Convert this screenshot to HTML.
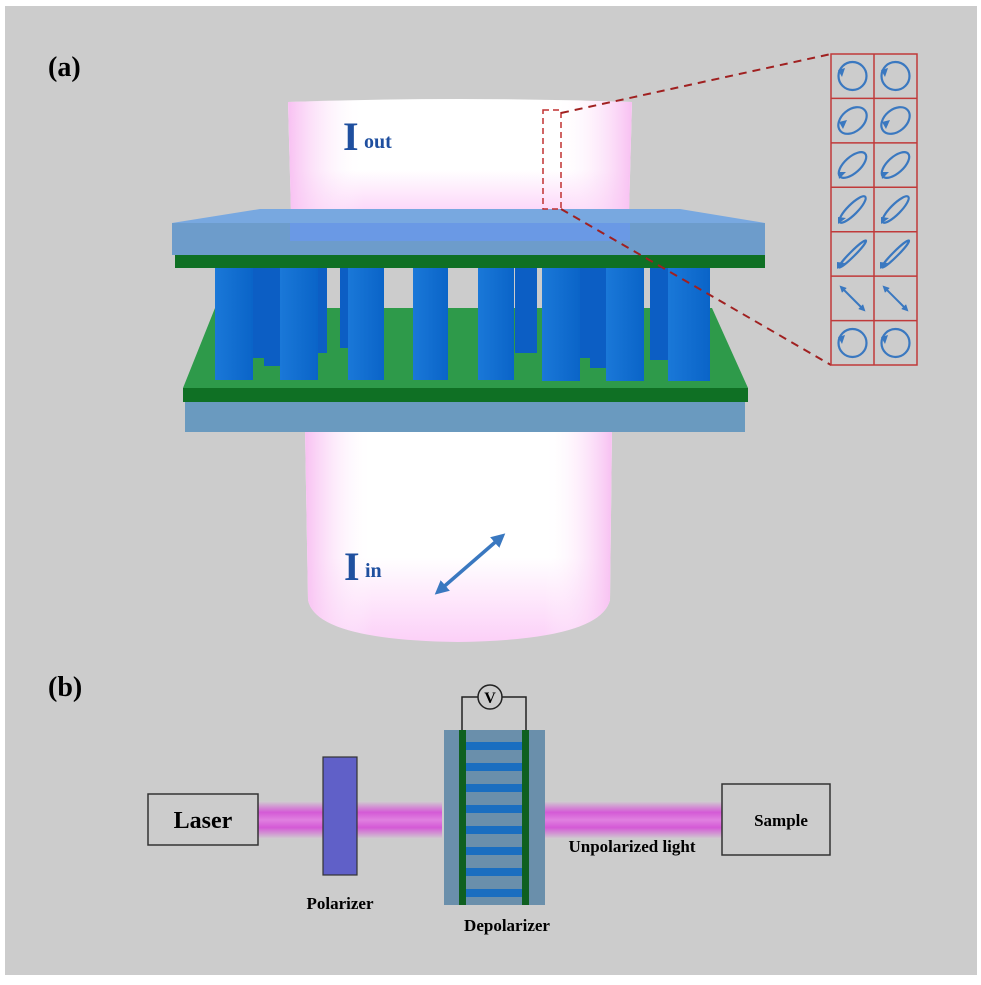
<!DOCTYPE html>
<html><head><meta charset="utf-8"><style>html,body{margin:0;padding:0;background:#fff}svg{display:block}</style></head>
<body>
<svg width="981" height="985" viewBox="0 0 981 985" xmlns="http://www.w3.org/2000/svg" font-family="Liberation Serif, serif">
<defs>
<linearGradient id="cyl2" x1="0" y1="0" x2="0" y2="1">
<stop offset="0" stop-color="#fff"/><stop offset="0.6" stop-color="#fff"/><stop offset="1" stop-color="#fcd0f8"/></linearGradient>
<linearGradient id="side" x1="0" y1="0" x2="1" y2="0">
<stop offset="0" stop-color="#f8c0f2" stop-opacity="1"/><stop offset="0.22" stop-color="#fff" stop-opacity="0"/><stop offset="0.78" stop-color="#fff" stop-opacity="0"/><stop offset="1" stop-color="#f8c0f2" stop-opacity="1"/></linearGradient>
<linearGradient id="beam" x1="0" y1="0" x2="0" y2="1">
<stop offset="0" stop-color="#cfcfcf"/><stop offset="0.3" stop-color="#d45ad6"/><stop offset="0.5" stop-color="#e080e0"/><stop offset="0.7" stop-color="#d45ad6"/><stop offset="1" stop-color="#cfcfcf"/></linearGradient>
<linearGradient id="pil" x1="0" y1="0" x2="1" y2="0">
<stop offset="0" stop-color="#1a78d8"/><stop offset="1" stop-color="#0a64c8"/></linearGradient>
<marker id="ah" viewBox="0 0 10 10" refX="5" refY="5" markerWidth="4" markerHeight="4" orient="auto-start-reverse"><path d="M0,0 L10,5 L0,10 z" fill="#3a78c0"/></marker>
<marker id="ah2" viewBox="0 0 10 10" refX="5" refY="5" markerWidth="3.5" markerHeight="3.5" orient="auto-start-reverse"><path d="M0,0 L10,5 L0,10 z" fill="#3a78c0"/></marker>
</defs>
<rect x="0" y="0" width="981" height="985" fill="#fff"/>
<rect x="5" y="6" width="972" height="969" fill="#cccccc"/>

<text x="48" y="76" font-size="28" font-weight="bold">(a)</text>
<text x="48" y="696" font-size="28" font-weight="bold">(b)</text>

<path d="M305,430 L612,430 L610,600 Q600,640 458,642 Q316,640 308,600 Z" fill="url(#cyl2)"/>
<path d="M305,430 L612,430 L610,600 Q600,640 458,642 Q316,640 308,600 Z" fill="url(#side)"/>

<path d="M288,102 Q460,96 632,102 L629,213 Q460,222 291,213 Z" fill="url(#cyl2)"/>
<path d="M288,102 Q460,96 632,102 L629,213 Q460,222 291,213 Z" fill="url(#side)"/>

<polygon points="215,308 712,308 748,388 183,388" fill="#2e9a4a"/>
<rect x="183" y="388" width="565" height="14" fill="#0f7024"/>
<rect x="185" y="402" width="560" height="30" fill="#6a9abf"/>

<g fill="#0c5ec4">
<rect x="250" y="268" width="22" height="90"/><rect x="305" y="268" width="22" height="85"/><rect x="340" y="268" width="20" height="80"/>
<rect x="515" y="268" width="22" height="85"/><rect x="580" y="268" width="22" height="90"/><rect x="650" y="268" width="22" height="92"/>
<rect x="264" y="268" width="16" height="98"/><rect x="590" y="268" width="18" height="100"/>
</g>
<g fill="url(#pil)">
<rect x="215" y="268" width="38" height="112"/><rect x="280" y="268" width="38" height="112"/><rect x="348" y="268" width="36" height="112"/>
<rect x="413" y="268" width="35" height="112"/><rect x="478" y="268" width="36" height="112"/><rect x="542" y="268" width="38" height="113"/>
<rect x="606" y="268" width="38" height="113"/><rect x="668" y="268" width="42" height="113"/>
</g>

<polygon points="260,209 680,209 765,223 172,223" fill="#78a8e0"/>
<rect x="172" y="223" width="593" height="32" fill="#6d9ccb"/>
<rect x="290" y="223" width="340" height="18" fill="#6a98f0" opacity="0.7"/>
<rect x="175" y="255" width="590" height="13" fill="#0f7024"/>

<text x="343" y="150" font-size="40" font-weight="bold" fill="#1f4f9f">I</text>
<text x="364" y="148" font-size="20" font-weight="bold" fill="#1f4f9f">out</text>
<text x="344" y="580" font-size="40" font-weight="bold" fill="#1f4f9f">I</text>
<text x="365" y="577" font-size="20" font-weight="bold" fill="#1f4f9f">in</text>
<line x1="440" y1="590" x2="500" y2="538" stroke="#3a78c0" stroke-width="3.5" marker-start="url(#ah)" marker-end="url(#ah)"/>

<rect x="543" y="110" width="18" height="99" fill="none" stroke="#c03030" stroke-width="1.5" stroke-dasharray="6,4"/>
<line x1="561" y1="113" x2="831" y2="54" stroke="#a02020" stroke-width="2" stroke-dasharray="8,6"/>
<line x1="561" y1="209" x2="831" y2="365" stroke="#a02020" stroke-width="2" stroke-dasharray="8,6"/>

<g stroke="#c03a3a" stroke-width="1.5" fill="none">
<rect x="831" y="54" width="86" height="311"/>
<line x1="874" y1="54" x2="874" y2="365"/>
<line x1="831" y1="98.4" x2="917" y2="98.4"/><line x1="831" y1="142.9" x2="917" y2="142.9"/>
<line x1="831" y1="187.3" x2="917" y2="187.3"/><line x1="831" y1="231.7" x2="917" y2="231.7"/>
<line x1="831" y1="276.1" x2="917" y2="276.1"/><line x1="831" y1="320.6" x2="917" y2="320.6"/>
</g>
<g stroke="#3a78c0" stroke-width="2.2" fill="none">
<circle cx="852.5" cy="76" r="14"/><circle cx="895.5" cy="76" r="14"/>
<ellipse cx="852.5" cy="120.5" rx="16" ry="11" transform="rotate(-40 852.5 120.5)"/><ellipse cx="895.5" cy="120.5" rx="16" ry="11" transform="rotate(-40 895.5 120.5)"/>
<ellipse cx="852.5" cy="165" rx="17" ry="8" transform="rotate(-42 852.5 165)"/><ellipse cx="895.5" cy="165" rx="17" ry="8" transform="rotate(-42 895.5 165)"/>
<ellipse cx="852.5" cy="209.5" rx="18" ry="5" transform="rotate(-45 852.5 209.5)"/><ellipse cx="895.5" cy="209.5" rx="18" ry="5" transform="rotate(-45 895.5 209.5)"/>
<ellipse cx="852.5" cy="254" rx="19" ry="2.5" transform="rotate(-45 852.5 254)"/><ellipse cx="895.5" cy="254" rx="19" ry="2.5" transform="rotate(-45 895.5 254)"/>
<circle cx="852.5" cy="343" r="14"/><circle cx="895.5" cy="343" r="14"/>
</g>
<g fill="#3a78c0">
<path d="M838,70 l7,-2 l-3,9 z"/><path d="M881,70 l7,-2 l-3,9 z"/>
<path d="M839,122 l8,-2 l-4,9 z"/><path d="M882,122 l8,-2 l-4,9 z"/>
<path d="M838,172 l8,0 l-7,7 z"/><path d="M881,172 l8,0 l-7,7 z"/>
<path d="M838,217 l8,1 l-8,6 z"/><path d="M881,217 l8,1 l-8,6 z"/>
<path d="M837,262 l8,1 l-8,6 z"/><path d="M880,262 l8,1 l-8,6 z"/>
<path d="M838,337 l7,-2 l-3,9 z"/><path d="M881,337 l7,-2 l-3,9 z"/>
</g>
<line x1="842" y1="288" x2="863" y2="309" stroke="#3a78c0" stroke-width="2" marker-start="url(#ah2)" marker-end="url(#ah2)"/>
<line x1="885" y1="288" x2="906" y2="309" stroke="#3a78c0" stroke-width="2" marker-start="url(#ah2)" marker-end="url(#ah2)"/>

<rect x="258" y="801" width="184" height="38" fill="url(#beam)"/>
<rect x="545" y="801" width="177" height="38" fill="url(#beam)"/>
<rect x="148" y="794" width="110" height="51" fill="none" stroke="#333" stroke-width="1.5"/>
<text x="203" y="828" font-size="24" font-weight="bold" text-anchor="middle">Laser</text>
<rect x="323" y="757" width="34" height="118" fill="#6060c8" stroke="#333" stroke-width="1.2"/>
<text x="340" y="909" font-size="17" font-weight="bold" text-anchor="middle">Polarizer</text>
<rect x="444" y="730" width="101" height="175" fill="#6a8fab"/>
<g fill="#1a6ec0">
<rect x="466" y="742" width="56" height="8"/><rect x="466" y="763" width="56" height="8"/><rect x="466" y="784" width="56" height="8"/><rect x="466" y="805" width="56" height="8"/>
<rect x="466" y="826" width="56" height="8"/><rect x="466" y="847" width="56" height="8"/><rect x="466" y="868" width="56" height="8"/><rect x="466" y="889" width="56" height="8"/>
</g>
<rect x="459" y="730" width="7" height="175" fill="#0f6020"/>
<rect x="522" y="730" width="7" height="175" fill="#0f6020"/>
<polyline points="462,730 462,697 478,697" fill="none" stroke="#222" stroke-width="1.5"/>
<polyline points="502,697 526,697 526,730" fill="none" stroke="#222" stroke-width="1.5"/>
<circle cx="490" cy="697" r="12" fill="none" stroke="#222" stroke-width="1.5"/>
<text x="490" y="703" font-size="16" font-weight="bold" text-anchor="middle">V</text>
<text x="507" y="931" font-size="17" font-weight="bold" text-anchor="middle">Depolarizer</text>
<rect x="722" y="784" width="108" height="71" fill="none" stroke="#333" stroke-width="1.5"/>
<text x="781" y="826" font-size="17" font-weight="bold" text-anchor="middle">Sample</text>
<text x="632" y="852" font-size="17" font-weight="bold" text-anchor="middle">Unpolarized light</text>
</svg>
</body></html>
